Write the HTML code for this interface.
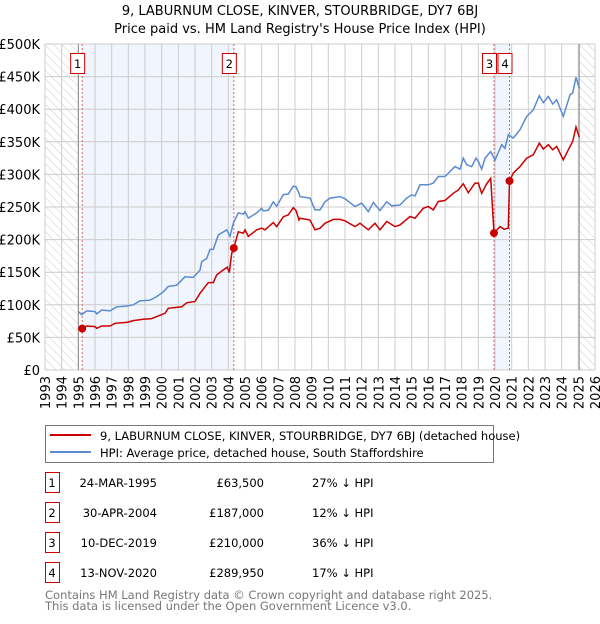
<!DOCTYPE html>
<html><head><meta charset="utf-8"><style>
body{margin:0;background:#fff;font-family:"DejaVu Sans","Liberation Sans",sans-serif;}
svg text{font-family:"DejaVu Sans","Liberation Sans",sans-serif;}
</style></head><body>
<svg id="chart" width="600" height="620" xmlns="http://www.w3.org/2000/svg">
<defs><pattern id="hatch" width="6" height="6" patternUnits="userSpaceOnUse" patternTransform="rotate(-45)"><line x1="0" y1="0" x2="0" y2="6" stroke="#ccc" stroke-width="1"/></pattern></defs>
<text x="300" y="15" text-anchor="middle" font-size="13">9, LABURNUM CLOSE, KINVER, STOURBRIDGE, DY7 6BJ</text>
<text x="300" y="33" text-anchor="middle" font-size="13">Price paid vs. HM Land Registry's House Price Index (HPI)</text>
<g id="plot"></g>
<g>
<rect x="45.5" y="425.5" width="448" height="37" fill="#fff" stroke="#777"/>
<line x1="50" y1="435" x2="91" y2="435" stroke="#cc0000" stroke-width="2"/>
<text x="100" y="440" font-size="11.5">9, LABURNUM CLOSE, KINVER, STOURBRIDGE, DY7 6BJ (detached house)</text>
<line x1="50" y1="452" x2="91" y2="452" stroke="#5b8bd0" stroke-width="2"/>
<text x="100" y="457" font-size="11.5">HPI: Average price, detached house, South Staffordshire</text>
</g>
<g id="table" font-size="11.5"></g>
<text x="45" y="599" font-size="11.5" fill="#777">Contains HM Land Registry data © Crown copyright and database right 2025.</text>
<text x="45" y="610" font-size="11.5" fill="#777">This data is licensed under the Open Government Licence v3.0.</text>
</svg>
<script>
const yTicks=[0,50,100,150,200,250,300,350,400,450,500];
const yTickLabels=["£0","£50K","£100K","£150K","£200K","£250K","£300K","£350K","£400K","£450K","£500K"];
const xYears=[1993,1994,1995,1996,1997,1998,1999,2000,2001,2002,2003,2004,2005,2006,2007,2008,2009,2010,2011,2012,2013,2014,2015,2016,2017,2018,2019,2020,2021,2022,2023,2024,2025,2026];
const hpiYears=[1995.0,1995.2,1995.5,1996,1996.1,1996.4,1996.9,1997.3,1997.9,1998.3,1998.7,1999.3,1999.7,2000.1,2000.4,2000.9,2001.4,2001.9,2002.3,2002.4,2002.7,2002.9,2003.1,2003.4,2003.9,2004.1,2004.3,2004.6,2004.9,2005.0,2005.2,2005.7,2006,2006.1,2006.4,2006.7,2006.9,2007.3,2007.6,2007.9,2008.06,2008.24,2008.3,2008.9,2009.2,2009.5,2009.8,2010.1,2010.7,2011.0,2011.6,2012.0,2012.4,2012.7,2013.1,2013.5,2013.8,2014.3,2014.7,2015,2015.2,2015.5,2016,2016.3,2016.6,2017,2017.3,2017.6,2017.9,2018.1,2018.3,2018.6,2018.86,2019.0,2019.2,2019.4,2019.74,2020.0,2020.4,2020.6,2020.8,2021.1,2021.5,2021.9,2022.3,2022.66,2022.9,2023.2,2023.46,2023.7,2024.1,2024.5,2024.66,2024.86,2025.06];
const hpiValues=[89.6,85,90.6,89.6,86,92,90.6,97,98,100,106,107,112.6,120,128,130,143,142,153,166,171,185,185,207,215,205,225,241,239,243,233,241,248,244,245,258,251,269,270,282,281,271,266,263.6,245.6,245.6,258,263.6,266,262.5,250.8,256,243,257,244.6,258,251.8,253,263.6,268.7,267,284,284,286.6,296.8,296.8,304.5,312,308,325,314.7,312,325,320,308,325,335,322,345.5,340,361,355.7,368.5,389,399,420.7,410,419.7,408,414.5,389,422,424.8,449,432];
const priceYears=[1995,1995.23,1995.5,1996,1996.1,1996.4,1996.9,1997.2,1997.9,1998.3,1998.9,1999.4,1999.7,2000.2,2000.4,2001.2,2001.5,2002,2002.3,2002.8,2003.1,2003.3,2003.7,2003.94,2004.06,2004.2,2004.33,2004.6,2004.9,2005,2005.2,2005.7,2006,2006.2,2006.7,2006.9,2007.3,2007.6,2007.9,2008.06,2008.24,2008.3,2008.9,2009.2,2009.5,2009.8,2010.3,2010.7,2011,2011.6,2011.9,2012.4,2012.8,2013.1,2013.5,2014,2014.3,2014.9,2015.2,2015.7,2016,2016.3,2016.6,2017,2017.5,2017.8,2018.1,2018.4,2018.8,2019,2019.2,2019.5,2019.74,2019.94,2020.3,2020.54,2020.8,2020.87,2021.1,2021.5,2021.9,2022.3,2022.66,2022.9,2023.2,2023.46,2023.7,2024.1,2024.4,2024.66,2024.86,2025.06];
const priceValues=[62.4,63.5,67.5,66.5,64,67.5,67.5,71.6,73,75.7,77.8,78.8,81.9,87,94.7,97,103,105,117.7,134,134,145.9,153.5,157.6,149.4,179,187,212,209.8,215,204.7,215,217.5,215,226,220,235,238,249,244.6,230,232.8,230,215,217.5,225,231,231,228.8,220,225,215,225,215,227.7,220,222.6,235.4,232.8,248,250.8,245.6,258.4,260,271,276,285.6,272,286.6,286.6,271,285.6,294,210,220,216,217.5,289.95,302,312,325,330,348,338.8,345.5,337.8,342.9,322.4,337.8,350.6,372.6,357];
const saleYears=[1995.23,2004.33,2019.94,2020.87];
const saleValues=[63.5,187,210,289.95];
const saleLabels=["1","2","3","4"];
const saleDates=["24-MAR-1995","30-APR-2004","10-DEC-2019","13-NOV-2020"];
const salePrices=["£63,500","£187,000","£210,000","£289,950"];
const saleDiffs=["27% ↓ HPI","12% ↓ HPI","36% ↓ HPI","17% ↓ HPI"];

const NS="http://www.w3.org/2000/svg";
const X0=45,X1=595,Y0=370,Y1=44;
const xs=y=>X0+(y-1993)/(2026-1993)*(X1-X0);
const ys=v=>Y0-v/500*(Y0-Y1);
function mk(tag,attrs,parent){const e=document.createElementNS(NS,tag);for(const k in attrs)e.setAttribute(k,attrs[k]);parent.appendChild(e);return e;}
const plot=document.getElementById('plot');
let e;
e=mk('rect',{x:X0,y:Y1,width:X1-X0,height:Y0-Y1,fill:'#fff'},plot);


e=mk('rect',{x:xs(saleYears[0]),y:Y1,width:xs(saleYears[1])-xs(saleYears[0]),height:Y0-Y1,fill:'#eef3fc',opacity:0.8},plot);


e=mk('rect',{x:xs(saleYears[2]),y:Y1,width:xs(saleYears[3])-xs(saleYears[2]),height:Y0-Y1,fill:'#eef3fc',opacity:0.8},plot);


e=mk('rect',{x:X0,y:Y1,width:xs(1995)-X0,height:Y0-Y1,fill:'url(#hatch)'},plot);


e=mk('rect',{x:xs(2025.05),y:Y1,width:X1-xs(2025.05),height:Y0-Y1,fill:'url(#hatch)'},plot);


yTicks.forEach((t,i)=>{
  const l=mk('line',{x1:X0,x2:X1,y1:ys(t),y2:ys(t),stroke:'#ccc','stroke-width':1},plot);
  
  
  const tx=mk('text',{x:X0-5,y:ys(t)+5,'text-anchor':'end','font-size':13},plot);
  tx.textContent=yTickLabels[i];
  
  
});
xYears.forEach(yr=>{
  const l=mk('line',{x1:xs(yr),x2:xs(yr),y1:Y1,y2:Y0,stroke:'#ccc','stroke-width':1},plot);
  
  
  const tx=mk('text',{x:0,y:0,'text-anchor':'end','font-size':13,transform:`translate(${xs(yr)+5},376) rotate(-90)`},plot);
  tx.textContent=yr;
  
  
});
e=mk('line',{x1:xs(1995),x2:xs(1995),y1:Y1,y2:Y0,stroke:'#888','stroke-width':1},plot);


e=mk('line',{x1:xs(2025.05),x2:xs(2025.05),y1:Y1,y2:Y0,stroke:'#888','stroke-width':1},plot);


saleYears.forEach((yr,i)=>{
  const l=mk('line',{x1:xs(yr),x2:xs(yr),y1:Y1,y2:Y0,stroke:'#e06060','stroke-width':1,'stroke-dasharray':'2,2'},plot);
  
  
});
const path=(xa,va)=>xa.map((x,i)=>(i?'L':'M')+xs(x).toFixed(1)+','+ys(va[i]).toFixed(1)).join('');
e=mk('path',{d:path(hpiYears,hpiValues),fill:'none',stroke:'#5b8bd0','stroke-width':1.5},plot);


e=mk('path',{d:path(priceYears,priceValues),fill:'none',stroke:'#cc0000','stroke-width':1.5},plot);


saleYears.forEach((yr,i)=>{
  const c=mk('circle',{cx:xs(yr),cy:ys(saleValues[i]),r:4,fill:'#cc0000'},plot);
  
  
});
saleYears.forEach((yr,i)=>{
  const cx=xs(yr)-4.5;
  const r=mk('rect',{x:cx-7,y:53.5,width:14,height:20,fill:'#fff',stroke:'#cc0000'},plot);
  
  
  const t=mk('text',{x:cx,y:68,'text-anchor':'middle','font-size':11.5},plot);
  t.textContent=saleLabels[i];
  
  
});
const tbl=document.getElementById('table');
saleLabels.forEach((lab,i)=>{
  const cy=483+30*i;
  const r=mk('rect',{x:45.5,y:cy-10.5,width:14,height:20,fill:'#fff',stroke:'#cc0000'},tbl);
  
  
  const cells=[[52,'middle',lab,'table-row-number'],[157,'end',saleDates[i],'table-date'],[264,'end',salePrices[i],'table-price'],[312,'start',saleDiffs[i],'table-hpi-diff']];
  cells.forEach(c=>{
    const t=mk('text',{x:c[0],y:cy+4,'text-anchor':c[1]},tbl);
    t.textContent=c[2];
    
    
  });
});
</script>
</body></html>
